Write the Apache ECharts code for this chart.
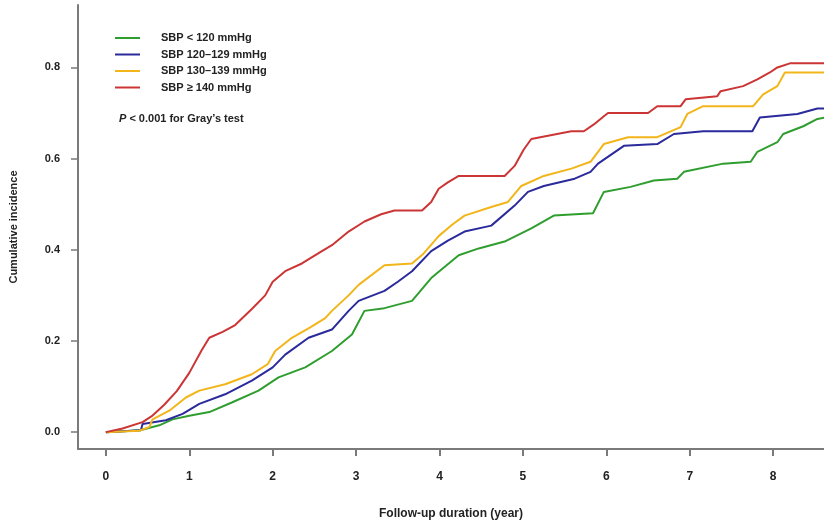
<!DOCTYPE html>
<html>
<head>
<meta charset="utf-8">
<script src="https://cdn.jsdelivr.net/npm/echarts@6/dist/echarts.min.js"></script>
<style>
html,body{margin:0;padding:0;background:#fff;}
#chart{width:824px;height:525px;}
</style>
</head>
<body>
<div id="chart"></div>
<script>
var seriesNames = ['SBP < 120 mmHg', 'SBP 120–129 mmHg', 'SBP 130–139 mmHg', 'SBP ≥ 140 mmHg'];
var xTicks = [0, 1, 2, 3, 4, 5, 6, 7, 8];
var yTicks = [0, 0.2, 0.4, 0.6, 0.8];

var green = [[0,0],[0.41,0.004],[0.64,0.015],[0.80,0.028],[1.0,0.036],[1.24,0.044],[1.51,0.065],[1.83,0.091],[2.07,0.12],[2.23,0.131],[2.39,0.142],[2.71,0.178],[2.95,0.214],[3.10,0.266],[3.34,0.272],[3.67,0.288],[3.90,0.338],[4.23,0.388],[4.47,0.403],[4.78,0.418],[5.10,0.447],[5.37,0.475],[5.84,0.48],[5.97,0.527],[6.29,0.538],[6.57,0.552],[6.85,0.556],[6.93,0.571],[7.40,0.589],[7.73,0.593],[7.81,0.615],[8.05,0.636],[8.12,0.654],[8.36,0.671],[8.53,0.687],[8.62,0.69]];

var blue = [[0,0],[0.42,0.004],[0.44,0.018],[0.72,0.026],[0.92,0.04],[1.12,0.062],[1.43,0.083],[1.75,0.113],[2.0,0.142],[2.15,0.17],[2.43,0.207],[2.71,0.225],[2.91,0.266],[3.03,0.288],[3.34,0.31],[3.5,0.33],[3.67,0.353],[3.90,0.397],[4.1,0.42],[4.30,0.44],[4.62,0.453],[4.90,0.497],[5.06,0.527],[5.25,0.54],[5.62,0.556],[5.81,0.571],[5.90,0.589],[6.21,0.628],[6.61,0.632],[6.81,0.654],[7.16,0.66],[7.75,0.66],[7.84,0.69],[8.29,0.698],[8.53,0.71],[8.62,0.71]];

var yellow = [[0,0],[0.4,0.003],[0.52,0.011],[0.56,0.028],[0.76,0.047],[0.96,0.076],[1.12,0.091],[1.43,0.105],[1.75,0.127],[1.94,0.149],[2.03,0.178],[2.23,0.207],[2.45,0.23],[2.63,0.25],[2.71,0.266],[2.91,0.30],[3.03,0.323],[3.34,0.366],[3.67,0.37],[3.8,0.39],[3.99,0.43],[4.15,0.455],[4.30,0.475],[4.62,0.494],[4.82,0.505],[4.98,0.54],[5.25,0.562],[5.58,0.578],[5.81,0.593],[5.97,0.632],[6.26,0.647],[6.61,0.647],[6.89,0.669],[6.97,0.698],[7.16,0.715],[7.76,0.715],[7.88,0.741],[8.05,0.759],[8.14,0.789],[8.62,0.789]];

var red = [[0,0],[0.2,0.008],[0.44,0.022],[0.55,0.035],[0.7,0.06],[0.85,0.09],[1.0,0.13],[1.15,0.18],[1.24,0.207],[1.4,0.22],[1.55,0.235],[1.75,0.27],[1.91,0.30],[2.0,0.33],[2.15,0.353],[2.35,0.37],[2.59,0.397],[2.71,0.41],[2.91,0.44],[3.10,0.462],[3.3,0.478],[3.46,0.486],[3.79,0.486],[3.90,0.505],[3.99,0.534],[4.1,0.548],[4.23,0.562],[4.78,0.562],[4.90,0.584],[5.01,0.62],[5.10,0.643],[5.3,0.65],[5.58,0.66],[5.73,0.66],[5.85,0.675],[5.97,0.693],[6.02,0.70],[6.50,0.70],[6.61,0.715],[6.89,0.715],[6.95,0.73],[7.33,0.737],[7.37,0.748],[7.64,0.759],[7.81,0.774],[7.96,0.789],[8.05,0.80],[8.20,0.809],[8.62,0.809]];

var colors = ['#2f9e2f', '#2a2a9c', '#f2b51a', '#cc3535'];
var seriesData = [green, blue, yellow, red];

var chart = echarts.init(document.getElementById('chart'));
var font = '"Liberation Sans Narrow", "Liberation Sans", Arial, sans-serif';
var axisColor = '#7a7a7a';

var series = seriesData.map(function (d, i) {
  return {
    name: seriesNames[i],
    type: 'line',
    data: d,
    showSymbol: false,
    symbol: 'none',
    lineStyle: { width: 2, color: colors[i] },
    itemStyle: { color: colors[i] },
    z: 2 + i,
    animation: false
  };
});

chart.setOption({
  animation: false,
  backgroundColor: '#fff',
  grid: { left: 75, right: 0, top: 5, bottom: 73, containLabel: false },
  legend: {
    orient: 'vertical',
    left: 115,
    top: 31,
    padding: 0,
    icon: 'rect',
    itemWidth: 25,
    itemHeight: 2,
    itemGap: 2.5,
    data: seriesNames,
    textStyle: {
      fontFamily: 'Liberation Sans, Arial, sans-serif',
      fontWeight: 'bold',
      fontSize: 11,
      color: '#222',
      lineHeight: 14,
      padding: [0, 0, 0, 16]
    }
  },
  graphic: [{
    type: 'text',
    left: 119,
    top: 113,
    style: {
      text: '{i|P} < 0.001 for Gray\u2019s test',
      rich: {
        i: { fontStyle: 'italic', fontWeight: 'bold', fontSize: 11, fontFamily: 'Liberation Sans, Arial, sans-serif', fill: '#222' }
      },
      font: 'bold 11px "Liberation Sans", Arial, sans-serif',
      fill: '#222'
    }
  }],
  xAxis: {
    type: 'value',
    min: -0.334,
    max: 8.609,
    name: 'Follow-up duration (year)',
    nameLocation: 'middle',
    nameGap: 59,
    nameTextStyle: { fontFamily: font, fontWeight: 'bold', fontSize: 12, color: '#222' },
    axisLine: { show: true, onZero: false, lineStyle: { color: axisColor, width: 2 } },
    axisTick: { show: true, length: 7, inside: false, customValues: xTicks, lineStyle: { color: axisColor, width: 2 } },
    axisLabel: { customValues: xTicks, margin: 22, fontFamily: font, fontWeight: 'bold', fontSize: 12, color: '#222' },
    splitLine: { show: false }
  },
  yAxis: {
    type: 'value',
    min: -0.037,
    max: 0.937,
    name: 'Cumulative incidence',
    nameLocation: 'middle',
    nameGap: 59,
    nameRotate: 90,
    nameTextStyle: { fontFamily: 'Liberation Sans, Arial, sans-serif', fontWeight: 'bold', fontSize: 11, color: '#222' },
    axisLine: { show: true, onZero: false, lineStyle: { color: axisColor, width: 2 } },
    axisTick: { show: true, length: 7, inside: false, customValues: yTicks, lineStyle: { color: axisColor, width: 1.5 } },
    axisLabel: {
      customValues: yTicks,
      margin: 18,
      fontFamily: 'Liberation Sans, Arial, sans-serif',
      fontWeight: 'bold',
      fontSize: 11,
      color: '#222',
      formatter: function (v) { return v.toFixed(1); }
    },
    splitLine: { show: false }
  },
  series: series
});
</script>
</body>
</html>
